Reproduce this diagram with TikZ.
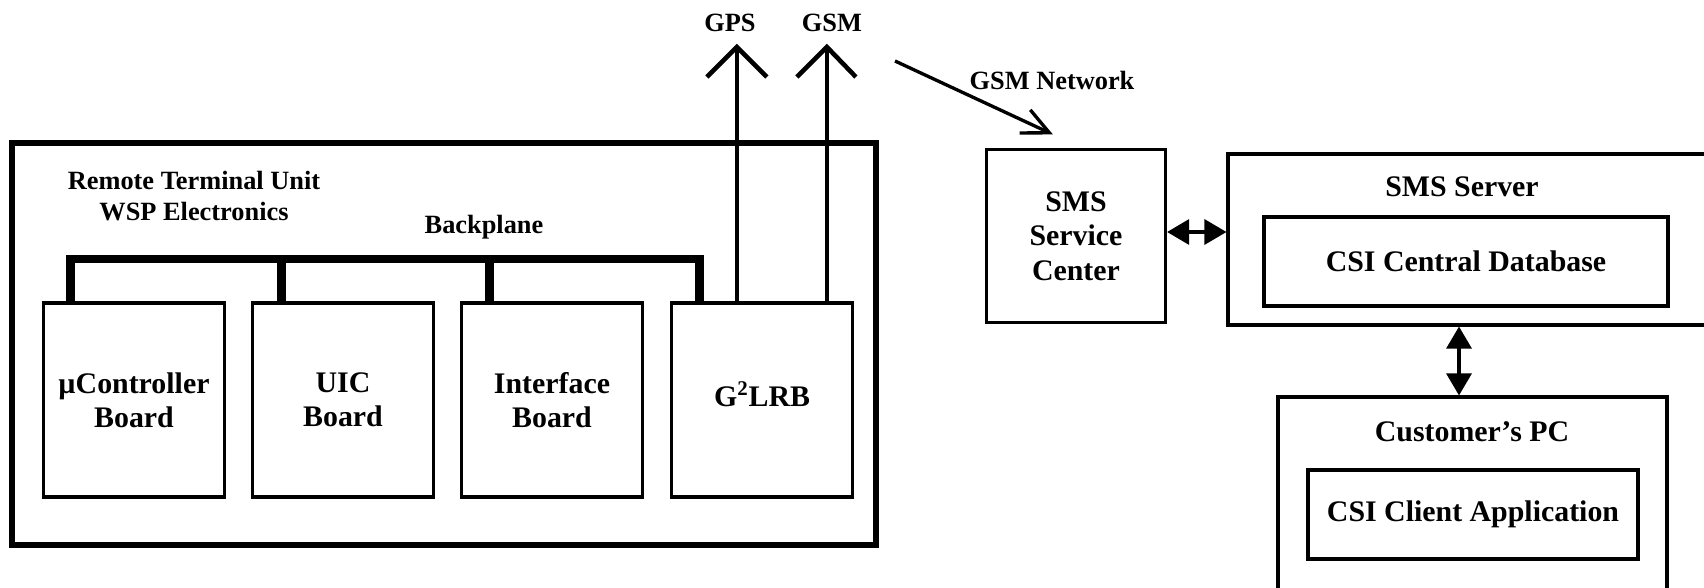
\documentclass[tikz,border=0pt]{standalone}
\usepackage{fontspec}
\setmainfont{Liberation Serif}
\usetikzlibrary{arrows.meta}

\begin{document}
\begin{tikzpicture}[
    x=0.02cm, y=-0.02cm,
    box/.style={
        rectangle,
        draw,
        line width=1.8pt,
        inner sep=0pt,
        align=center,
        font=\fontsize{17}{19.5}\selectfont\bfseries
    },
    board/.style={box, minimum width=3.62cm, minimum height=3.88cm},
    note/.style={inner sep=0pt, align=center, font=\fontsize{15}{18}\selectfont\bfseries},
    subhead/.style={inner sep=0pt, font=\fontsize{17}{19.5}\selectfont\bfseries},
    bus/.style={line width=5.1pt},
    antenna/.style={line width=2.6pt},
    link/.style={line width=1.8pt, {Triangle[length=0.44cm,width=0.5cm]}-{Triangle[length=0.44cm,width=0.5cm]}}
]

\useasboundingbox (0,0) rectangle (1704,588);
\clip (0,0) rectangle (1704,588);

% remote terminal unit
\node[box, line width=3.2pt, minimum width=17.28cm, minimum height=8.04cm] (rtu) at (444,344) {};
\node[note] (rtulbl) at (194,196) {Remote Terminal Unit\\WSP Electronics};

\node[board] (mcu) at (134,400) {µController\\Board};
\node[board] (uic) at (343,400) {UIC\\Board};
\node[board] (iface) at (552,400) {Interface\\Board};
\node[board] (glrb) at (762,400) {\raisebox{0.24cm}{G\textsuperscript{2}LRB}};

% backplane
\node[note] (bplbl) at (484,227) {Backplane};
\coordinate (bp) at (0,259);
\draw[bus] ([xshift=0.57cm]mcu.north west) -- ([xshift=0.57cm]mcu.north west |- bp)
    -- ([xshift=0.59cm]glrb.north west |- bp) -- ([xshift=0.59cm]glrb.north west);
\draw[bus] ([xshift=0.61cm]uic.north west) -- ([xshift=0.61cm]uic.north west |- bp);
\draw[bus] ([xshift=0.59cm]iface.north west) -- ([xshift=0.59cm]iface.north west |- bp);

% antennas
\coordinate (sky) at (0,47);
\coordinate (gpstip) at ([xshift=1.34cm]glrb.north west |- sky);
\coordinate (gsmtip) at ([xshift=3.14cm]glrb.north west |- sky);
\draw[antenna] ([xshift=1.34cm]glrb.north west) -- (gpstip);
\draw[antenna] ([xshift=3.14cm,yshift=-0.08cm]glrb.north west) -- (gsmtip);
\draw[antenna] (gpstip) +(-30,30) -- (gpstip) -- +(30,30);
\draw[antenna] (gsmtip) +(-30,30) -- (gsmtip) -- +(29,30);
\node[note] (gpslbl) at (730,23) {GPS};
\node[note] (gsmlbl) at (832,23) {GSM};

% sms side
\node[box, minimum width=3.58cm, minimum height=3.46cm] (smsc) at (1076,236) {SMS\\Service\\Center};

\coordinate (gsmtx) at (895,61);
\draw[line width=1.9pt, -{Straight Barb[length=0.54cm,width=0.51cm]}] (gsmtx) -- ([xshift=1.36cm,yshift=0.27cm]smsc.north west);
\node[note] (netlbl) at (1052,80) {GSM Network};

\node[box, minimum width=9.56cm, minimum height=3.42cm] (smssrv) at (1467,239.5) {};
\node[subhead] (smssrvlbl) at (1462,187) {SMS Server};
\node[box, minimum width=8.08cm, minimum height=1.78cm] (csidb) at (1466,261.5) {CSI Central Database};

\draw[link] ([yshift=0.08cm]smsc.east) -- ([yshift=0.08cm]smsc.east -| smssrv.west);

\node[box, minimum width=7.78cm, minimum height=4.06cm] (cpc) at (1472.5,498.5) {};
\node[subhead] (cpclbl) at (1472,432) {Customer’s PC};
\node[box, minimum width=6.6cm, minimum height=1.78cm] (csiapp) at (1473,514.5) {CSI Client Application};

\draw[link] ([xshift=-0.27cm]cpc.north |- smssrv.south) -- ([xshift=-0.27cm]cpc.north);

\end{tikzpicture}
\end{document}
